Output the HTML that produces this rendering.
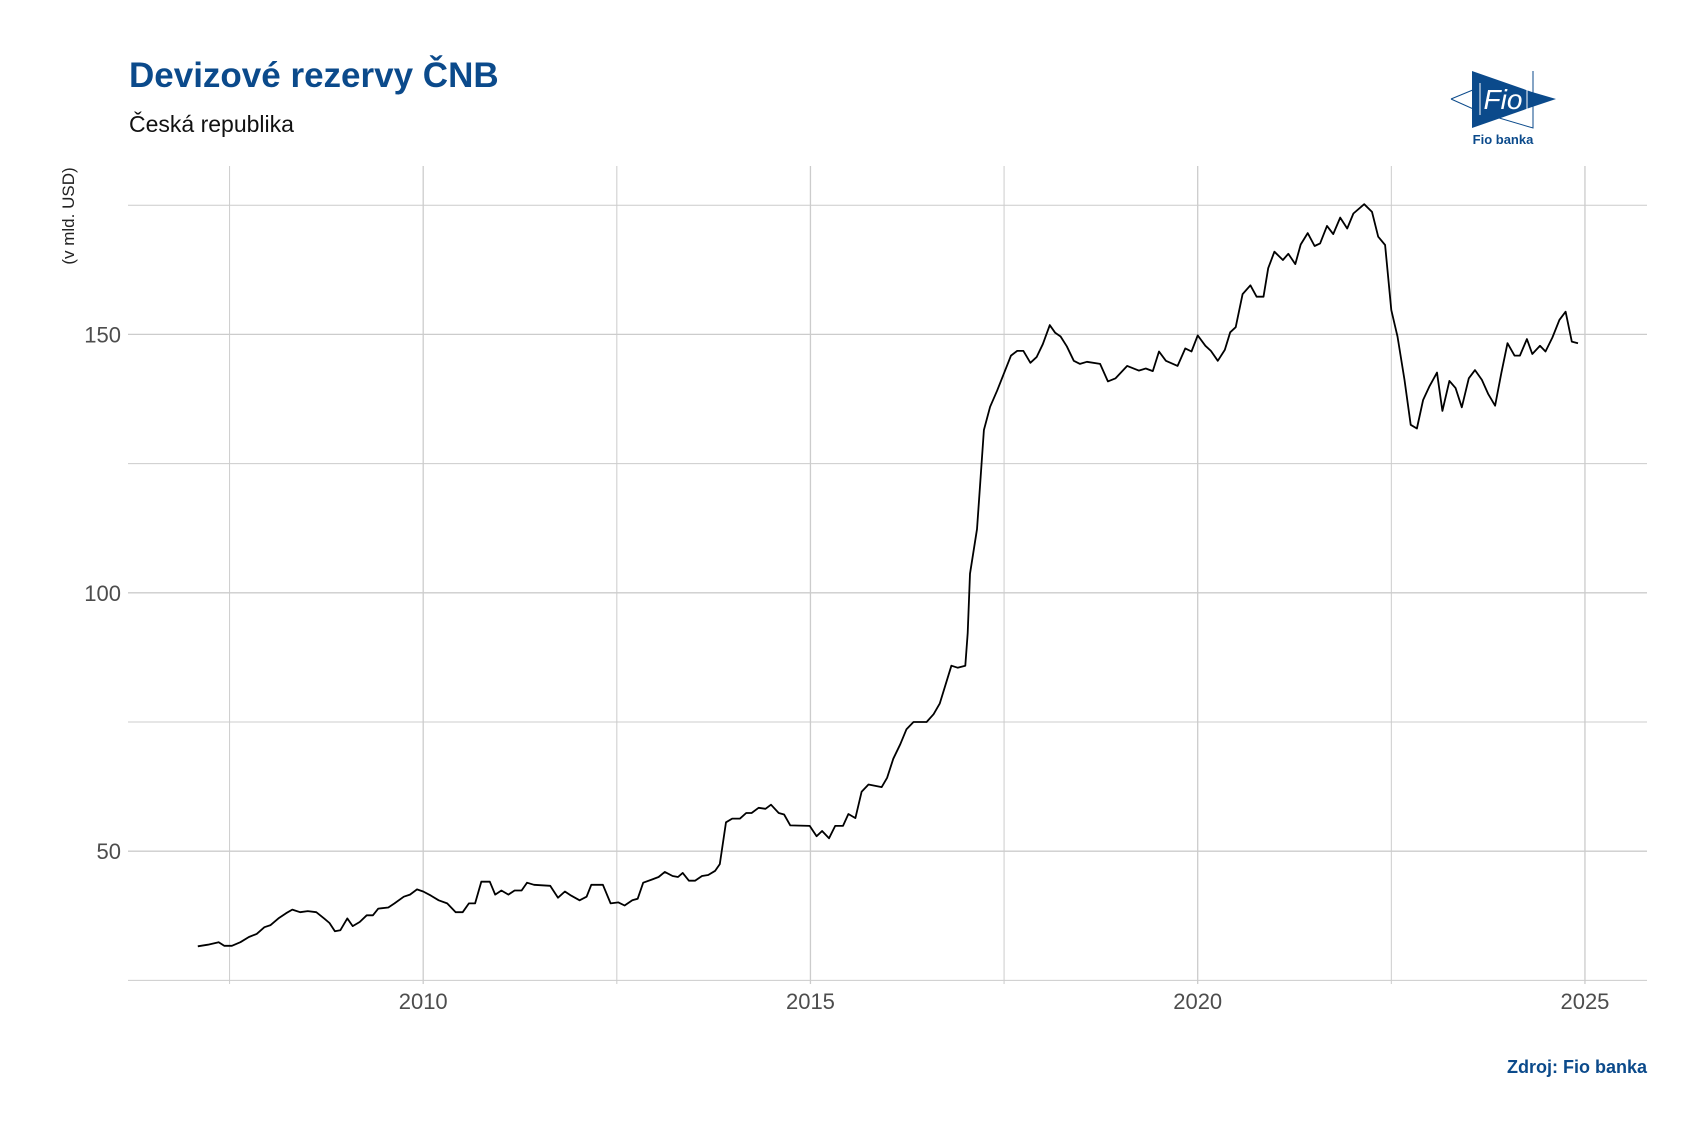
<!DOCTYPE html>
<html>
<head>
<meta charset="utf-8">
<style>
  html,body{margin:0;padding:0;background:#fff;}
  body{width:1707px;height:1135px;overflow:hidden;font-family:"Liberation Sans",Arial,sans-serif;}
  svg text{font-family:"Liberation Sans",Arial,sans-serif;}
</style>
</head>
<body>
<svg id="chart" width="1707" height="1135" viewBox="0 0 1707 1135" xmlns="http://www.w3.org/2000/svg">
  <text x="129" y="87" font-size="35" font-weight="bold" fill="#0b4a8b">Devizové rezervy ČNB</text>
  <text x="129" y="132" font-size="23" fill="#111">Česká republika</text>

  <g>
    <polygon points="1472,71 1532,92 1556,99 1532,107 1472,128" fill="#0b4a8b"/>
    <polyline points="1451,99 1480,87 1480,112 1451,99" fill="none" stroke="#0b4a8b" stroke-width="1"/>
    <polyline points="1533,71 1533,128 1472,110 M1533,71 1478,90" fill="none" stroke="#0b4a8b" stroke-width="1"/>
    <line x1="1533" y1="71" x2="1533" y2="128" stroke="#0b4a8b" stroke-width="1"/>
    <line x1="1480" y1="83" x2="1480" y2="115" stroke="#fff" stroke-width="1"/>
    <line x1="1527" y1="83" x2="1527" y2="115" stroke="#fff" stroke-width="1"/>
    <text x="1503" y="109" font-size="28" font-style="italic" fill="#fff" text-anchor="middle" font-family="Liberation Serif, serif">Fio</text>
    <text x="1503" y="144" font-size="13" font-weight="bold" fill="#0b4a8b" text-anchor="middle">Fio banka</text>
  </g>

  <text transform="translate(74,216) rotate(-90)" font-size="17" fill="#222" text-anchor="middle">(v mld. USD)</text>

  <g id="grid"></g>
  <g id="yticks"></g>
  <g id="xticks"></g>
  <path id="line" fill="none" stroke="#000" stroke-width="1.8" stroke-linejoin="round"/>

  <text x="1647" y="1073" font-size="18" font-weight="bold" fill="#0b4a8b" text-anchor="end">Zdroj: Fio banka</text>
</svg>
<script>
const years = [2007.09,2007.22,2007.36,2007.43,2007.53,2007.64,2007.75,2007.85,2007.95,2008.03,2008.13,2008.23,2008.31,2008.41,2008.51,2008.62,2008.72,2008.79,2008.86,2008.93,2009.02,2009.09,2009.18,2009.27,2009.35,2009.42,2009.55,2009.63,2009.75,2009.83,2009.92,2010.00,2010.10,2010.20,2010.31,2010.42,2010.51,2010.59,2010.67,2010.75,2010.86,2010.93,2011.01,2011.10,2011.18,2011.27,2011.34,2011.43,2011.64,2011.74,2011.83,2011.91,2012.02,2012.11,2012.17,2012.32,2012.42,2012.52,2012.60,2012.70,2012.77,2012.84,2012.95,2013.04,2013.12,2013.22,2013.29,2013.35,2013.43,2013.51,2013.60,2013.68,2013.77,2013.83,
2013.91,2013.99,2014.09,2014.17,2014.24,2014.33,2014.42,2014.49,2014.59,2014.66,2014.74,2014.99,2015.08,2015.15,2015.24,2015.32,2015.42,2015.49,2015.58,2015.66,2015.75,2015.92,2015.99,2016.07,2016.16,2016.24,2016.33,2016.50,2016.59,2016.67,2016.82,2016.90,2017.00,2017.03,2017.06,2017.15,2017.19,2017.24,2017.32,2017.41,2017.59,2017.67,2017.75,2017.84,2017.92,2018.00,2018.09,2018.16,2018.23,2018.31,2018.40,2018.48,2018.57,2018.74,2018.84,2018.94,
2019.09,2019.24,2019.33,2019.42,2019.50,2019.59,2019.74,2019.84,2019.92,2020.00,2020.10,2020.17,2020.26,2020.35,2020.42,2020.49,2020.58,2020.68,2020.76,2020.85,2020.91,2020.99,2021.10,2021.17,2021.26,2021.33,2021.42,2021.51,2021.58,2021.67,2021.75,2021.84,2021.93,2022.01,2022.15,2022.25,2022.33,2022.42,2022.50,2022.58,2022.67,2022.75,2022.83,2022.91,2022.99,2023.09,2023.16,2023.25,2023.33,2023.41,2023.50,2023.58,2023.67,2023.75,2023.84,2023.92,2024.00,2024.09,2024.16,2024.25,2024.32,2024.42,2024.49,2024.58,2024.67,2024.75,2024.83,2024.91];
const reserves = [31.6,31.9,32.4,31.7,31.7,32.4,33.4,34.0,35.3,35.7,37.0,38.0,38.7,38.2,38.4,38.2,37.0,36.1,34.5,34.7,37.0,35.5,36.3,37.6,37.6,38.9,39.1,39.9,41.2,41.6,42.6,42.2,41.4,40.5,39.9,38.2,38.2,39.9,39.9,44.1,44.1,41.6,42.4,41.6,42.4,42.4,43.9,43.5,43.3,41.0,42.2,41.4,40.5,41.2,43.5,43.5,39.9,40.1,39.5,40.5,40.8,43.9,44.5,45.0,46.0,45.2,45.0,45.8,44.3,44.3,45.2,45.4,46.2,47.5,
55.6,56.3,56.3,57.4,57.4,58.4,58.2,59.0,57.4,57.1,55.0,54.9,52.9,53.9,52.5,54.9,54.9,57.2,56.4,61.5,62.9,62.4,64.2,67.9,70.7,73.6,75.0,75.0,76.5,78.6,85.9,85.5,85.9,92.2,103.7,112.3,120.9,131.5,136.0,139.1,145.9,146.8,146.8,144.5,145.6,148.1,151.8,150.3,149.6,147.7,144.9,144.3,144.7,144.3,140.9,141.5,
143.9,143.0,143.4,142.9,146.7,144.9,143.9,147.3,146.7,149.8,147.8,146.8,144.9,147.0,150.4,151.4,157.8,159.5,157.3,157.3,162.8,166.0,164.4,165.6,163.6,167.4,169.6,167.1,167.6,171.0,169.4,172.6,170.5,173.4,175.2,173.7,168.9,167.3,154.7,149.6,141.2,132.5,131.8,137.3,139.9,142.6,135.2,141.0,139.6,135.9,141.5,143.1,141.2,138.5,136.2,142.5,148.3,145.9,145.9,149.1,146.2,147.8,146.7,149.4,152.8,154.4,148.6,148.3];
const yTickValues = [50,100,150];
const yGridValues = [25,50,75,100,125,150,175];
const xTickYears = [2010,2015,2020,2025];
const xGridYears = [2007.5,2010,2012.5,2015,2017.5,2020,2022.5,2025];

const NS = 'http://www.w3.org/2000/svg';
const PL = 128, PR = 1647, PT = 166, PB = 984;
function xScale(yr){ return 423.2 + (yr - 2010) * 77.45; }
function yScale(v){ return 334.4 - (v - 150) * 5.168; }

const grid = document.getElementById('grid');
yGridValues.forEach(v => {
  const l = document.createElementNS(NS,'line');
  
  
  l.setAttribute('x1', PL); l.setAttribute('x2', PR);
  l.setAttribute('y1', yScale(v)); l.setAttribute('y2', yScale(v));
  l.setAttribute('stroke', '#cccccc');
  l.setAttribute('stroke-width', yTickValues.includes(v) ? 1.3 : 1);
  grid.appendChild(l);
});
xGridYears.forEach(yr => {
  const l = document.createElementNS(NS,'line');
  
  
  l.setAttribute('x1', xScale(yr)); l.setAttribute('x2', xScale(yr));
  l.setAttribute('y1', PT); l.setAttribute('y2', PB);
  l.setAttribute('stroke', '#cccccc');
  l.setAttribute('stroke-width', xTickYears.includes(yr) ? 1.3 : 1);
  grid.appendChild(l);
});
const yt = document.getElementById('yticks');
yTickValues.forEach(v => {
  const t = document.createElementNS(NS,'text');
  
  
  t.setAttribute('x', 121); t.setAttribute('y', yScale(v) + 8);
  t.setAttribute('text-anchor', 'end');
  t.setAttribute('font-size', '22');
  t.setAttribute('fill', '#4d4d4d');
  t.textContent = v;
  yt.appendChild(t);
});
const xt = document.getElementById('xticks');
xTickYears.forEach(yr => {
  const t = document.createElementNS(NS,'text');
  
  
  t.setAttribute('x', xScale(yr)); t.setAttribute('y', 1009);
  t.setAttribute('text-anchor', 'middle');
  t.setAttribute('font-size', '22');
  t.setAttribute('fill', '#4d4d4d');
  t.textContent = yr;
  xt.appendChild(t);
});
let d = '';
years.forEach((yr, i) => {
  d += (i ? 'L' : 'M') + xScale(yr).toFixed(1) + ',' + yScale(reserves[i]).toFixed(1);
});
document.getElementById('line').setAttribute('d', d);
</script>
</body>
</html>
